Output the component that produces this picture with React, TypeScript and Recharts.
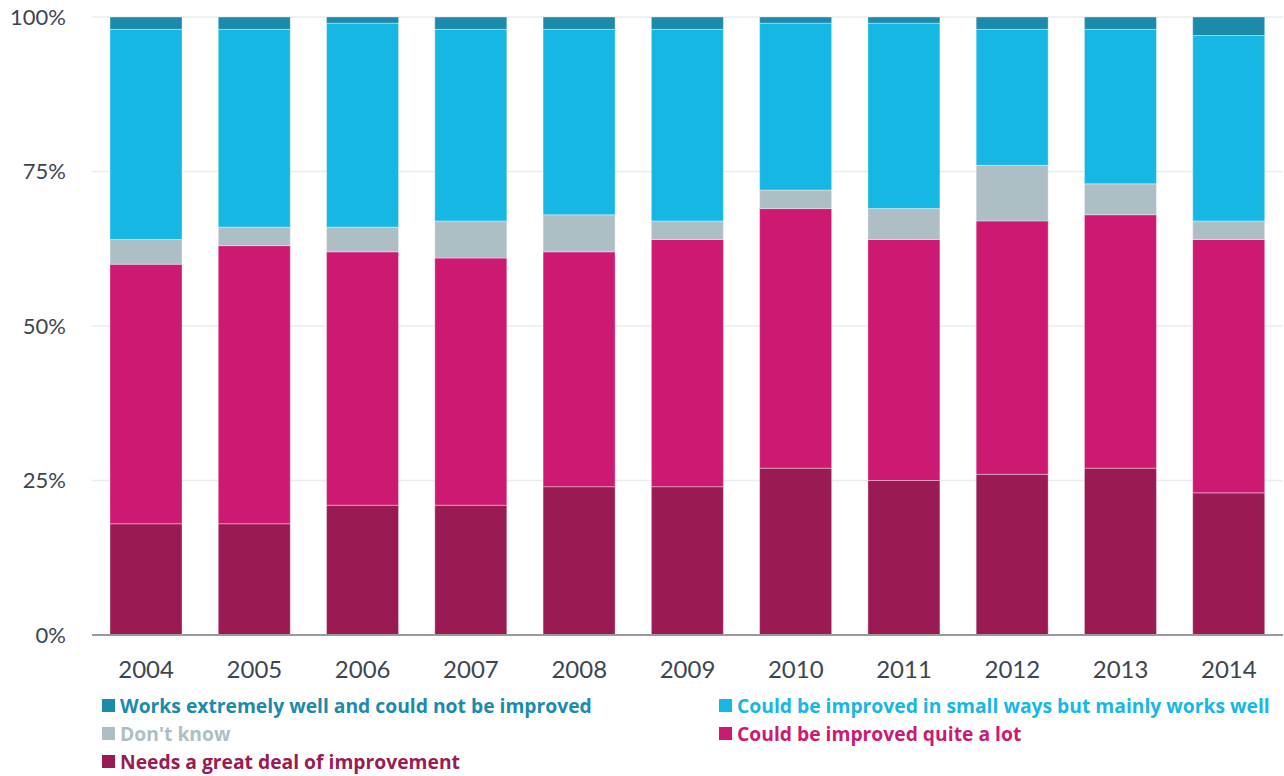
import { BarChart, Bar, XAxis, YAxis, CartesianGrid } from 'recharts';

const YEARS = ['2004', '2005', '2006', '2007', '2008', '2009', '2010', '2011', '2012', '2013', '2014'];

// percentages per year, bottom to top
const GREAT_DEAL = [18, 18, 21, 21, 24, 24, 27, 25, 26, 27, 23];
const QUITE_A_LOT = [42, 45, 41, 40, 38, 40, 42, 39, 41, 41, 41];
const DONT_KNOW = [4, 3, 4, 6, 6, 3, 3, 5, 9, 5, 3];
const SMALL_WAYS = [34, 32, 33, 31, 30, 31, 27, 30, 22, 25, 30];
const EXTREMELY_WELL = [2, 2, 1, 2, 2, 2, 1, 1, 2, 2, 3];

const Y_TICKS = [0, 25, 50, 75, 100];

const SERIES = [
  { key: 'greatDeal', name: 'Needs a great deal of improvement', color: '#9a1a54' },
  { key: 'quiteALot', name: 'Could be improved quite a lot', color: '#cc1a72' },
  { key: 'dontKnow', name: "Don't know", color: '#adbfc5' },
  { key: 'smallWays', name: 'Could be improved in small ways but mainly works well', color: '#17b7e4' },
  { key: 'extremelyWell', name: 'Works extremely well and could not be improved', color: '#1b8aab' },
];

const data = YEARS.map((year, i) => ({
  year,
  greatDeal: GREAT_DEAL[i],
  quiteALot: QUITE_A_LOT[i],
  dontKnow: DONT_KNOW[i],
  smallWays: SMALL_WAYS[i],
  extremelyWell: EXTREMELY_WELL[i],
}));

const FONT = "Lato, 'Open Sans', sans-serif";
const LEGEND_FONT = "'Open Sans', Lato, sans-serif";

// legend order as in the picture: two columns, three rows
const LEGEND_ROWS = [
  ['extremelyWell', 'smallWays'],
  ['dontKnow', 'quiteALot'],
  ['greatDeal', null],
];

function LegendItem({ k }: { k: string | null }) {
  if (!k) return <div />;
  const s = SERIES.find(x => x.key === k)!;
  return (
    <div style={{ display: 'flex', alignItems: 'center', color: s.color, fontWeight: 700, fontSize: 19.3, fontFamily: LEGEND_FONT, height: 23, whiteSpace: 'nowrap' }}>
      <span style={{ width: 13, height: 13, background: s.color, display: 'inline-block', marginRight: 5, flexShrink: 0 }} />
      {s.name}
    </div>
  );
}

export default function App() {
  return (
    <div style={{ position: 'absolute', left: 0, top: 0, width: 1284, height: 776, background: '#fff', fontFamily: FONT }}>
      <BarChart
        width={1284}
        height={690}
        data={data}
        margin={{ top: 17, right: 1, left: 0, bottom: 0 }}
        barSize={72}
      >
        <CartesianGrid vertical={false} stroke="#e8eeef" strokeWidth={1.5} />
        <YAxis
          domain={[0, 100]}
          ticks={Y_TICKS}
          tickFormatter={(v: number) => `${v}%`}
          axisLine={false}
          tickLine={false}
          tickSize={0}
          tickMargin={26}
          width={92}
          tick={{ fill: '#3d4650', fontSize: 22, fontFamily: FONT }}
        />
        <XAxis
          dataKey="year"
          axisLine={{ stroke: '#9a9a9a', strokeWidth: 2 }}
          tickLine={false}
          tickSize={0}
          tickMargin={26}
          height={55}
          tick={{ fill: '#3d4650', fontSize: 24, fontFamily: FONT }}
        />
        {SERIES.map(s => (
          <Bar
            key={s.key}
            dataKey={s.key}
            name={s.name}
            stackId="a"
            fill={s.color}
            stroke="rgba(255,255,255,0.35)"
            strokeWidth={1}
            isAnimationActive={false}
          />
        ))}
      </BarChart>
      <div style={{ position: 'absolute', left: 102, top: 694, width: 1180, display: 'grid', gridTemplateColumns: '617px 1fr', rowGap: 5 }}>
        {LEGEND_ROWS.flatMap((row, i) => [
          <LegendItem key={`l${i}`} k={row[0]} />,
          <LegendItem key={`r${i}`} k={row[1]} />,
        ])}
      </div>
    </div>
  );
}
